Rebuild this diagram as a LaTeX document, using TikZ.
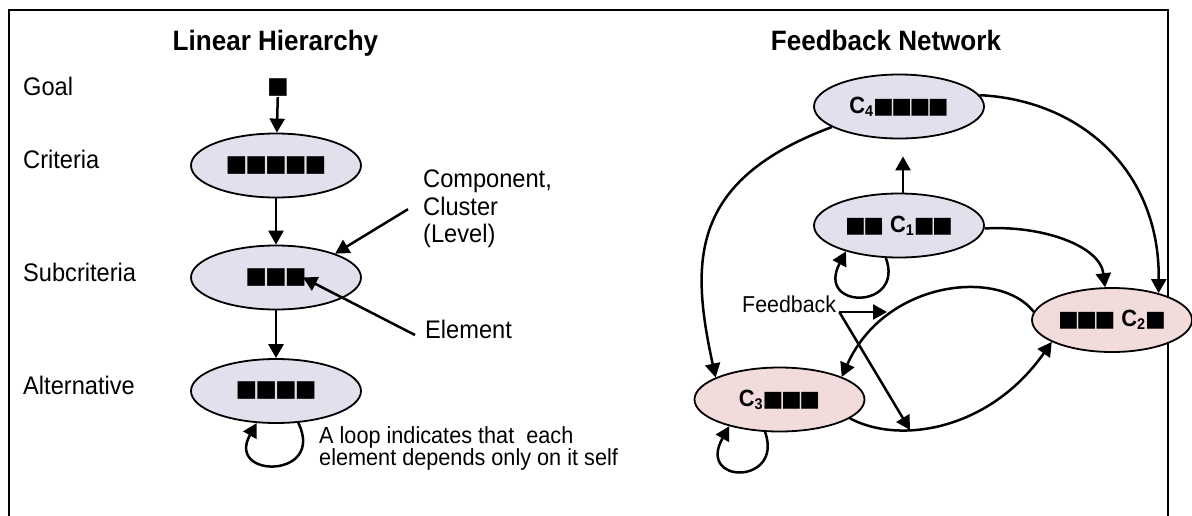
\documentclass[tikz,border=0pt]{standalone}
\usepackage{fontspec}
\setmainfont[FakeStretch=0.93]{Liberation Sans}
\newfontfamily\sqfont{DejaVu Sans}
\usetikzlibrary{shapes.geometric,arrows.meta}
\definecolor{lav}{HTML}{E4DFEC}
\definecolor{pinkc}{HTML}{F2DCDB}
\newcommand\subsc[1]{\raisebox{-3pt}{\fontsize{15.5}{15.5}\selectfont #1}}
\newcommand\sqL[1]{{\sqfont\fontsize{23}{23}\selectfont #1}}
\newcommand\sqR[1]{{\sqfont\fontsize{22}{22}\selectfont #1}}
\newcommand\kL{\kern-2pt}
\newcommand\kR{\kern-2.5pt}
\begin{document}
\begin{tikzpicture}[x=1pt,y=-1pt,
  cluster/.style={ellipse,draw,line width=1.8pt,inner sep=0pt,minimum width=170pt,minimum height=64pt},
  lavc/.style={cluster,fill=lav},
  pinkcl/.style={cluster,fill=pinkc},
  arr/.style={line width=2.5pt,-{Triangle[length=14pt,width=15pt]}},
  frame/.style={line width=2.4pt},
  lbl/.style={font=\fontsize{25.4}{27.5}\selectfont,inner sep=0pt},
  ttl/.style={font=\bfseries\fontsize{28}{30}\selectfont,inner sep=0pt},
  ctext/.style={font=\bfseries\fontsize{23.5}{23.5}\selectfont}
]
\useasboundingbox (0,0) rectangle (1192,515);
% frame
\draw[frame] (9,540) -- (9,10) -- (1168,10) -- (1168,540);

% ---------- Linear hierarchy ----------
\node[ttl,anchor=base] (t1) at (275.5,50) {Linear Hierarchy};
\node[lbl,anchor=base west] (lgoal) at (23,95) {Goal};
\node[lbl,anchor=base west] (lcrit) at (23,168) {Criteria};
\node[lbl,anchor=base west] (lsub) at (23,281) {Subcriteria};
\node[lbl,anchor=base west] (lalt) at (23,394) {Alternative};

\node[inner sep=0pt] (goal) at (278,88) {\sqL{■}};
\node[lavc] (crit) at (276,165.5) {\sqL{■\kL■\kL■\kL■\kL■}};
\node[lavc] (sub) at (276,277.5) {\sqL{■\kL■\kL■}};
\node[lavc] (alt) at (276,391) {\sqL{■\kL■\kL■\kL■}};

\draw[arr] (goal) -- (crit);
\draw[arr] (crit) -- (sub);
\draw[arr] (sub) -- (alt);

\node[lbl,anchor=north west,align=left] (comp) at (423,170) {Component,\\Cluster\\(Level)};
\draw[arr] ([xshift=-15pt]comp.west) -- (sub.22);

\node[lbl,anchor=base west] (elem) at (425,338) {Element};
\draw[arr] ([xshift=-10pt,yshift=3pt]elem.base west) -- ([xshift=27pt]sub.center);

\draw[arr] (alt.305) .. controls (326,479) and (225,479) .. (alt.239);
\node[font=\fontsize{23.3}{19}\selectfont,inner sep=0pt,anchor=north west,align=left] (looptxt) at (319,426) {A loop indicates that\ \ each\\element depends only on it self};

% ---------- Feedback network ----------
\node[ttl,anchor=base] (t2) at (886,50) {Feedback Network};
\node[lavc,ctext] (c4) at (899,106.5) {C\subsc{4}\sqR{■\kR■\kR■\kR■}};
\node[lavc,ctext] (c1) at (899,225.5) {\sqR{■\kR■} C\subsc{1}\sqR{■\kR■}};
\node[pinkcl,ctext,minimum width=160pt] (c2) at (1112,320) {\sqR{■\kR■\kR■} C\subsc{2}\sqR{■}};
\node[pinkcl,ctext] (c3) at (779.5,399.5) {C\subsc{3}\sqR{■\kR■\kR■}};

\draw[arr,shorten >=17pt] ([xshift=4pt]c1.north) -- ([xshift=4pt]c4.south);
\draw[arr] (c4.197) .. controls (690,180) and (690,260) .. (c3.161);
\draw[arr] (c4.8) .. controls (1080,100) and (1160,170) .. (c2.30);
\draw[arr] (c1.358) .. controls (1040,225) and (1100,245) .. (c2.102);
\draw[arr] (c2.174) .. controls (1000,268) and (885,280) .. (c3.20);
\draw[arr] (c3.345) .. controls (900,445) and (990,430) .. (c2.200);
\draw[arr] (c1.248) .. controls (905,310) and (815,310) .. (c1.206);
\draw[arr] (c3.246) .. controls (784,485) and (696,485) .. (c3.208);

\node[font=\fontsize{23}{23}\selectfont,inner sep=0pt,anchor=base west] (fbl) at (742,312) {Feedback};
\coordinate (fb) at ([xshift=3pt]fbl.base east);
\coordinate (fbr) at (887,312);
\coordinate (fbd) at (910,430);
\draw[arr] (fb) -- (fbr);
\draw[arr] (fb) -- (fbd);
\end{tikzpicture}
\end{document}
